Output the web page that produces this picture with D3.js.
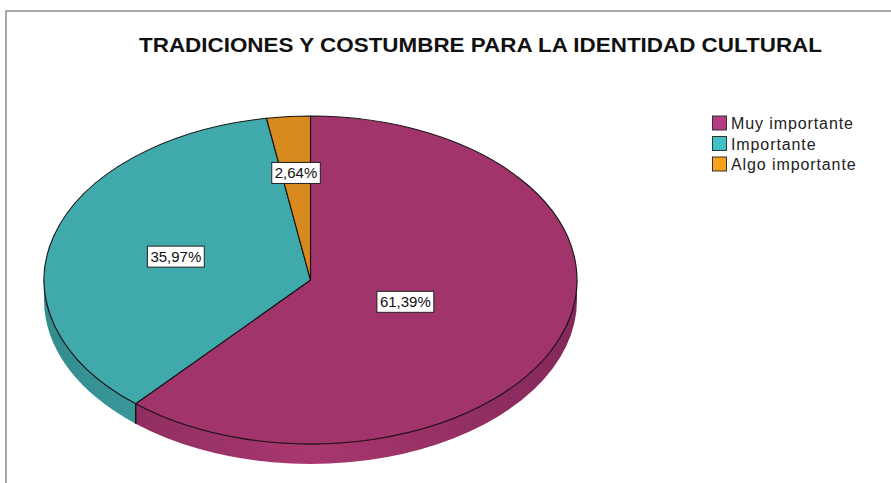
<!DOCTYPE html>
<html><head><meta charset="utf-8">
<script src="https://cdn.jsdelivr.net/npm/d3@7"></script>
<style>body{margin:0;background:#fff}svg{display:block}</style>
</head><body>
<svg id="c" width="891" height="483"></svg>
<script>
const title = "TRADICIONES Y COSTUMBRE PARA LA IDENTIDAD CULTURAL";
const categories = ["Muy importante", "Importante", "Algo importante"];
const values = [61.39, 35.97, 2.64];
const labels = ["61,39%", "35,97%", "2,64%"];
const topColors = ["#A1356B", "#40A9AB", "#D98A1F"];
const legendColors = ["#B43C80", "#3FC1C6", "#F7A11E"];
const sideDark = ["#84285A", "#338C8E", "#B06F16"];
const sideLight = ["#A8386F", "#42ADAF", "#DC8C20"];

// layout
const cx = 310.5, cy = 280, rx = 266.5, ry = 164, depth = 20;
const labelFrac = [0.38, 0.525, 0.655];

const svg = d3.select("#c");
const defs = svg.append("defs");

// frame
svg.append("path").attr("d", "M6,483 L6,11 L891,11")
  .attr("fill", "none").attr("stroke", "#8c8c8c").attr("stroke-width", 1.5);

// title
svg.append("text").attr("x", 480.5).attr("y", 52)
  .attr("text-anchor", "middle")
  .attr("font-family", "Liberation Sans, Arial, sans-serif")
  .attr("font-weight", "bold").attr("font-size", 19.5)
  .attr("textLength", 683).attr("lengthAdjust", "spacingAndGlyphs")
  .attr("fill", "#111").text(title);

const color = d3.scaleOrdinal().domain(categories).range(topColors);
const pie = d3.pie().sort(null).value(d => d.v);
const data = categories.map((c, i) => ({c, v: values[i], i}));
const arcs = pie(data);

const P = (t, dy = 0) => [cx + rx * Math.sin(t), cy - ry * Math.cos(t) + dy];
const fmt = p => p[0].toFixed(2) + "," + p[1].toFixed(2);

// gradients for side
categories.forEach((c, i) => {
  const g = defs.append("linearGradient").attr("id", "g" + i)
    .attr("gradientUnits", "userSpaceOnUse")
    .attr("x1", cx - rx).attr("x2", cx + rx).attr("y1", 0).attr("y2", 0);
  g.append("stop").attr("offset", 0).attr("stop-color", sideDark[i]);
  g.append("stop").attr("offset", 0.5).attr("stop-color", sideLight[i]);
  g.append("stop").attr("offset", 1).attr("stop-color", sideDark[i]);
});

// sides (front half: PI/2 .. 3PI/2)
const gSide = svg.append("g");
arcs.forEach(a => {
  const s0 = Math.max(a.startAngle, Math.PI / 2);
  const s1 = Math.min(a.endAngle, 3 * Math.PI / 2);
  if (s1 <= s0) return;
  const d = "M" + fmt(P(s0)) + " A" + rx + "," + ry + " 0 0 1 " + fmt(P(s1)) +
    " L" + fmt(P(s1, depth)) + " A" + rx + "," + ry + " 0 0 0 " + fmt(P(s0, depth)) + " Z";
  gSide.append("path").attr("d", d).attr("fill", "url(#g" + a.data.i + ")");
  [a.startAngle, a.endAngle].forEach(t => {
    if (t > Math.PI / 2 + 0.01 && t < 3 * Math.PI / 2 - 0.01) {
      gSide.append("line").attr("x1", P(t)[0]).attr("y1", P(t)[1])
        .attr("x2", P(t, depth)[0]).attr("y2", P(t, depth)[1])
        .attr("stroke", "#111").attr("stroke-width", 1.2);
    }
  });
});

// top faces
const gTop = svg.append("g");
arcs.forEach(a => {
  const large = (a.endAngle - a.startAngle) > Math.PI ? 1 : 0;
  const d = "M" + cx + "," + cy + " L" + fmt(P(a.startAngle)) +
    " A" + rx + "," + ry + " 0 " + large + " 1 " + fmt(P(a.endAngle)) + " Z";
  gTop.append("path").attr("d", d).attr("fill", color(a.data.c))
    .attr("stroke", "#151515").attr("stroke-width", 1.1).attr("stroke-linejoin", "round");
});
// soft front edge of top face
svg.append("path")
  .attr("d", "M" + fmt(P(Math.PI / 2)) + " A" + rx + "," + ry + " 0 0 1 " + fmt(P(3 * Math.PI / 2)))
  .attr("fill", "none").attr("stroke", "rgba(60,0,30,0.3)").attr("stroke-width", 1);

// labels
const gLab = svg.append("g").attr("font-family", "Liberation Sans, Arial, sans-serif").attr("font-size", 15);
arcs.forEach((a, i) => {
  const m = (a.startAngle + a.endAngle) / 2;
  const f = labelFrac[i];
  const x = cx + rx * f * Math.sin(m), y = cy - ry * f * Math.cos(m);
  const t = gLab.append("text").attr("x", x).attr("y", y + 5.5)
    .attr("text-anchor", "middle").attr("fill", "#111").text(labels[i]);
  const bb = t.node().getBBox();
  gLab.insert("rect", "text").attr("x", bb.x - 3).attr("y", y - 10.5)
    .attr("width", bb.width + 6).attr("height", 21)
    .attr("fill", "#fff").attr("stroke", "#222").attr("stroke-width", 1);
});

// legend
const gLeg = svg.append("g").attr("font-family", "Liberation Sans, Arial, sans-serif").attr("font-size", 16);
categories.forEach((c, i) => {
  const y = 123 + i * 20.5;
  gLeg.append("rect").attr("x", 712.5).attr("y", y - 7).attr("width", 14).attr("height", 14)
    .attr("fill", legendColors[i]).attr("stroke", "#333").attr("stroke-width", 1);
  gLeg.append("text").attr("x", 731).attr("y", y + 6).attr("letter-spacing", 0.9)
    .attr("fill", "#222").text(c);
});
</script>
</body></html>
